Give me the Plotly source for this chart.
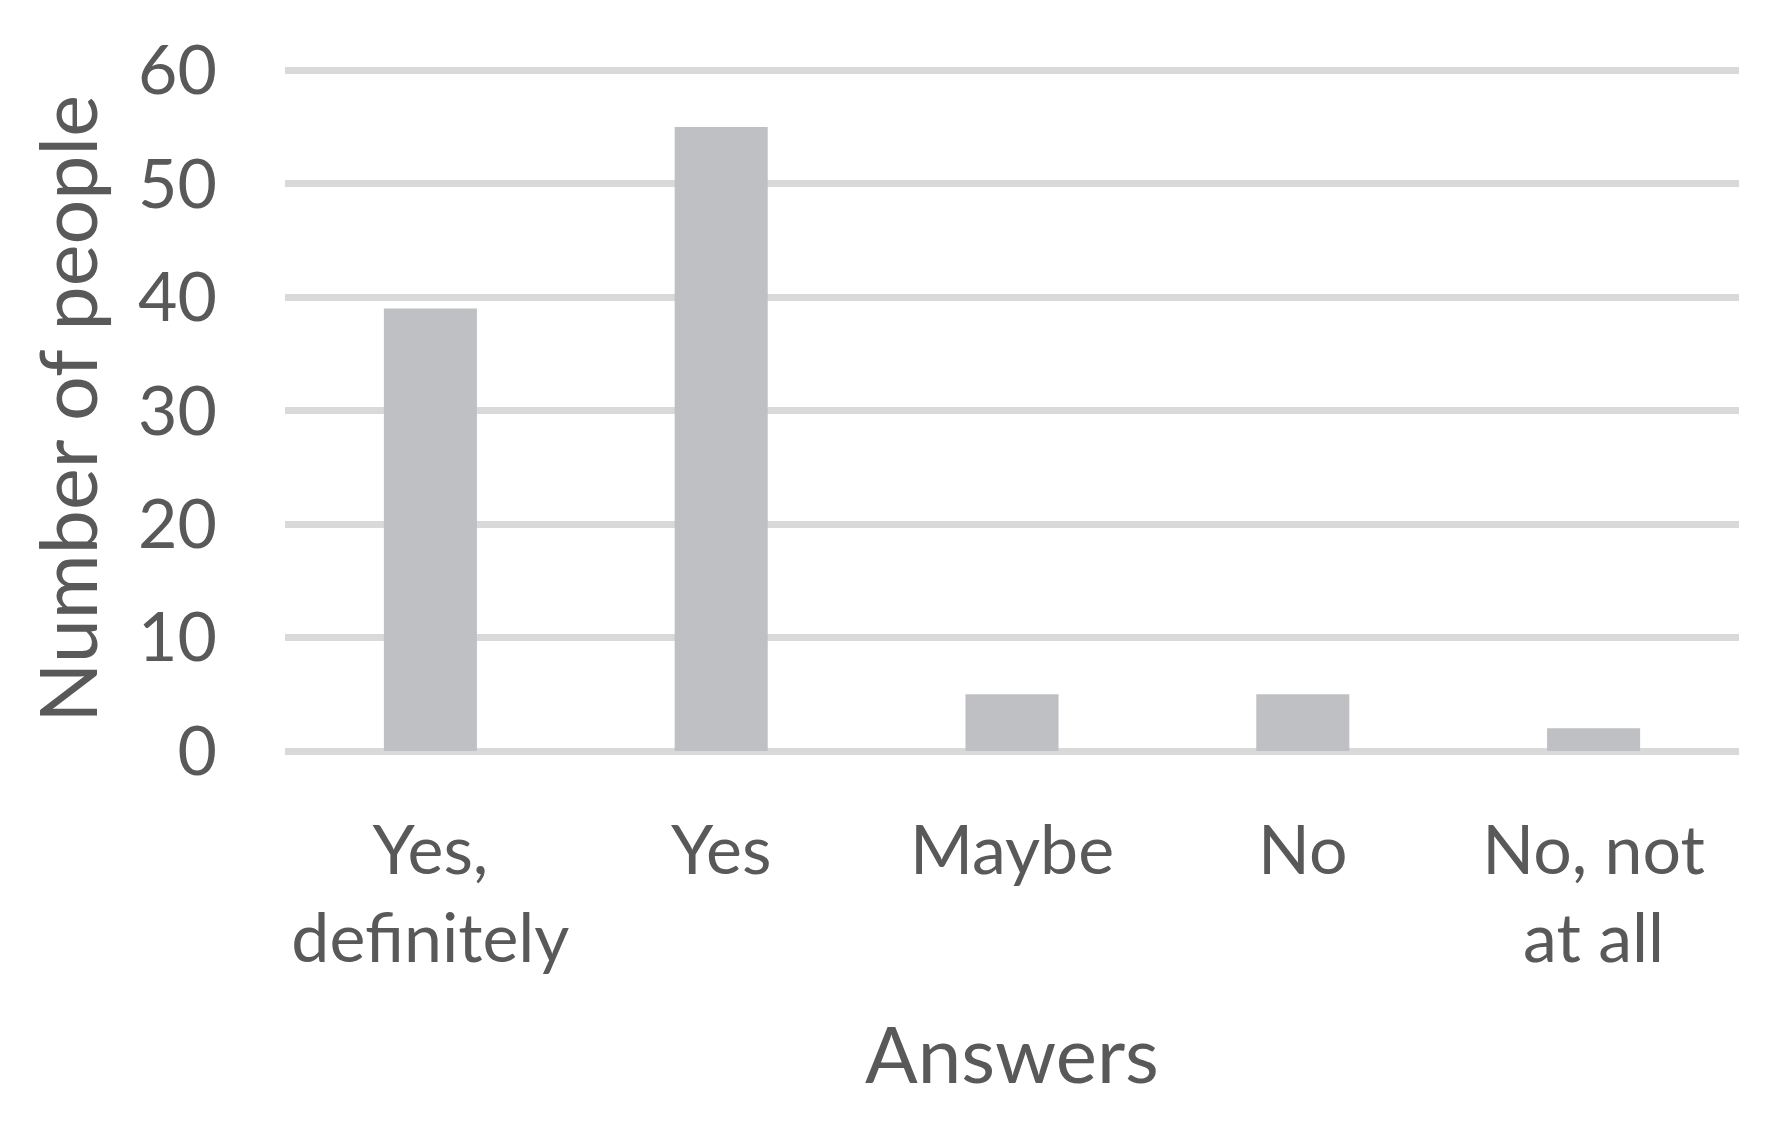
import plotly.graph_objects as go

answers = ["Yes,<br>definitely", "Yes", "Maybe", "No", "No, not<br>at all"]
people = [39, 55, 5, 5, 2]
y_ticks = [0, 10, 20, 30, 40, 50, 60]

TEXT = "#595959"
GRID = "#D9D9D9"
FONT = "Lato"

fig = go.Figure(
    go.Bar(x=answers, y=people, marker=dict(color="#BFC0C3", line=dict(width=0)))
)

# page body has an 8px margin, so the figure is a bit smaller than the window
fig.update_layout(
    width=1763,
    height=1112,
    margin=dict(l=277, r=32, t=59, b=369),
    paper_bgcolor="white",
    plot_bgcolor="white",
    bargap=0.68,
    showlegend=False,
    font=dict(family=FONT, color=TEXT, size=68),
)

fig.update_xaxes(
    automargin=False,
    showgrid=False,
    showline=False,
    ticks="",
    ticklabelstandoff=54,
    tickfont=dict(size=68, color=TEXT, family=FONT),
    title=dict(text="Answers", font=dict(size=78, color=TEXT, family=FONT), standoff=52),
)

fig.update_yaxes(
    automargin=False,
    range=[0, 60.3],
    tickvals=y_ticks,
    showgrid=True,
    gridcolor=GRID,
    gridwidth=7,
    zeroline=True,
    zerolinecolor=GRID,
    zerolinewidth=7,
    showline=False,
    ticks="",
    ticklabelstandoff=67,
    tickfont=dict(size=68, color=TEXT, family=FONT),
    title=dict(text="Number of people", font=dict(size=79, color=TEXT, family=FONT), standoff=14),
)

fig.write_html("out.html")
